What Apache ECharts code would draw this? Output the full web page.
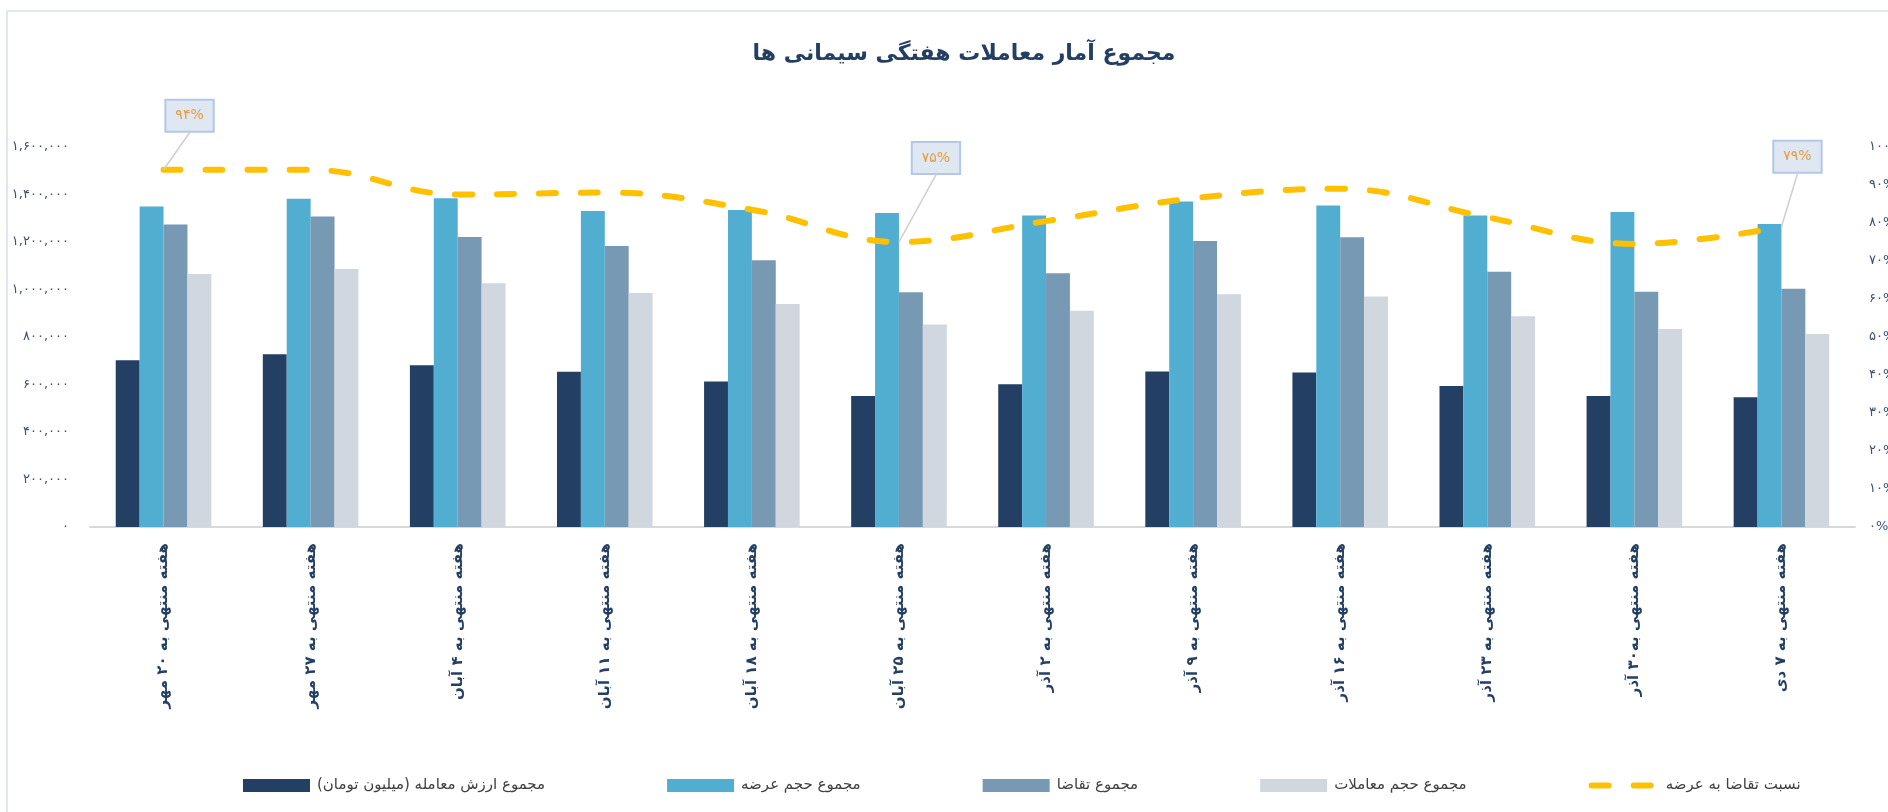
<!DOCTYPE html>
<html>
<head>
<meta charset="utf-8">
<script src="https://cdn.jsdelivr.net/npm/echarts@6/dist/echarts.min.js"></script>
<style>
  html, body { margin: 0; padding: 0; overflow: hidden; background: #fff; }
  #frame { position: absolute; left: 6px; top: 10px; width: 1950px; height: 900px; border: 2px solid #e1e6f0; box-sizing: border-box; }
  #chart { position: absolute; left: 0; top: 0; width: 1888px; height: 812px; }
</style>
</head>
<body>
<div id="frame"></div>
<div id="chart"></div>
<script>
const categories = [
  'هفته منتهی به ۲۰ مهر', 'هفته منتهی به ۲۷ مهر', 'هفته منتهی به ۴ آبان', 'هفته منتهی به ۱۱ آبان',
  'هفته منتهی به ۱۸ آبان', 'هفته منتهی به ۲۵ آبان', 'هفته منتهی به ۲ آذر', 'هفته منتهی به ۹ آذر',
  'هفته منتهی به ۱۶ آذر', 'هفته منتهی به ۲۳ آذر', 'هفته منتهی به۳۰ آذر', 'هفته منتهی به ۷ دی'
]
// مجموع ارزش معامله (میلیون تومان)
const tradeValue = [702000, 727000, 681000, 654000, 613000, 552000, 601000, 655000, 651000, 594000, 552000, 546000]
// مجموع حجم عرضه
const supply = [1350000, 1382000, 1384000, 1331000, 1335000, 1322000, 1312000, 1371000, 1354000, 1312000, 1326000, 1276000]
// مجموع تقاضا
const demand = [1274000, 1307000, 1221000, 1183000, 1123000, 988000, 1068000, 1204000, 1220000, 1075000, 991000, 1003000]
// مجموع حجم معاملات
const volume = [1065000, 1086000, 1026000, 985000, 939000, 853000, 911000, 980000, 971000, 887000, 834000, 813000]
// نسبت تقاضا به عرضه
const ratio = [0.94, 0.94, 0.875, 0.88, 0.835, 0.75, 0.805, 0.865, 0.89, 0.815, 0.745, 0.79]
const labelled = [0, 5, 11]

const faDigits = s => String(s).replace(/\d/g, d => '۰۱۲۳۴۵۶۷۸۹'[d])
const font = 'DejaVu Sans'
const navy = '#243f64'

const labelShift = { 0: [26, -34], 5: [37, -64], 11: [16, -50] }
const dash = { color: '#ffc000', width: 6, type: [17, 25], cap: 'round' }

const option = {
  title: {
    text: 'مجموع آمار معاملات هفتگی سیمانی ها',
    left: 959,
    top: 38,
    textAlign: 'center',
    textStyle: { fontFamily: font, fontSize: 22, fontWeight: 'bold', color: navy }
  },
  legend: {
    left: 238,
    top: 773,
    itemWidth: 67,
    itemHeight: 13,
    itemGap: 122,
    textStyle: { fontFamily: font, fontSize: 15, color: '#404040', padding: [0, 0, 0, 2] },
    data: [
      { name: 'مجموع ارزش معامله (میلیون تومان)', icon: 'rect' },
      { name: 'مجموع حجم عرضه', icon: 'rect' },
      { name: 'مجموع تقاضا', icon: 'rect' },
      { name: 'مجموع حجم معاملات', icon: 'rect' },
      { name: 'نسبت تقاضا به عرضه', lineStyle: dash, itemStyle: { opacity: 0 } }
    ]
  },
  grid: { left: 90, right: 33, top: 147, bottom: 285, outerBoundsMode: 'none' },
  xAxis: {
    type: 'category',
    data: categories,
    axisTick: { show: false },
    axisLine: { lineStyle: { color: '#d9d9d9', width: 2 } },
    axisLabel: {
      rotate: 90,
      margin: 16,
      interval: 0,
      fontFamily: font,
      fontSize: 15,
      fontWeight: 'bold',
      color: navy
    }
  },
  yAxis: [
    {
      type: 'value',
      min: 0,
      max: 1600000,
      interval: 200000,
      splitLine: { show: false },
      axisLine: { show: false },
      axisLabel: {
        margin: 21,
        fontFamily: font,
        fontSize: 13,
        color: '#3d4f75',
        formatter: v => faDigits(v.toLocaleString('en-US'))
      }
    },
    {
      type: 'value',
      min: 0,
      max: 1,
      interval: 0.1,
      splitLine: { show: false },
      axisLine: { show: false },
      axisLabel: {
        margin: 14,
        fontFamily: font,
        fontSize: 13,
        color: '#3d4f75',
        formatter: v => faDigits(Math.round(v * 100)) + '%'
      }
    }
  ],
  series: [
    {
      name: 'مجموع ارزش معامله (میلیون تومان)',
      type: 'bar',
      data: tradeValue,
      barGap: '0%',
      barCategoryGap: '35%',
      itemStyle: { color: '#243f64' }
    },
    {
      name: 'مجموع حجم عرضه',
      type: 'bar',
      data: supply,
      itemStyle: { color: '#52aed0' }
    },
    {
      name: 'مجموع تقاضا',
      type: 'bar',
      data: demand,
      itemStyle: { color: '#7799b3' }
    },
    {
      name: 'مجموع حجم معاملات',
      type: 'bar',
      data: volume,
      itemStyle: { color: '#d0d7df' }
    },
    {
      name: 'نسبت تقاضا به عرضه',
      type: 'line',
      yAxisIndex: 1,
      z: 5,
      smooth: 0.4,
      symbol: 'none',
      itemStyle: { color: '#ffc000' },
      lineStyle: dash,
      data: ratio.map((v, i) => labelled.includes(i)
        ? { value: v, symbol: 'circle', symbolSize: 0.1, label: { show: true } }
        : v),
      label: {
        show: false,
        position: 'top',
        formatter: p => faDigits(Math.round(p.value * 100)) + '%',
        fontFamily: font,
        fontSize: 14,
        color: '#e59c3a',
        backgroundColor: '#dfe7f3',
        borderColor: '#b4c7e7',
        borderWidth: 2,
        padding: [8, 9]
      },
      labelLine: {
        show: true,
        lineStyle: { color: '#cfcfcf', width: 1.5 }
      },
      labelLayout: p => {
        const s = labelShift[p.dataIndex] || [0, 0]
        return { dx: s[0], dy: s[1] }
      }
    }
  ]
}

const chart = echarts.init(document.getElementById('chart'))
chart.setOption(option)
window.addEventListener('resize', () => chart.resize())
</script>
</body>
</html>
